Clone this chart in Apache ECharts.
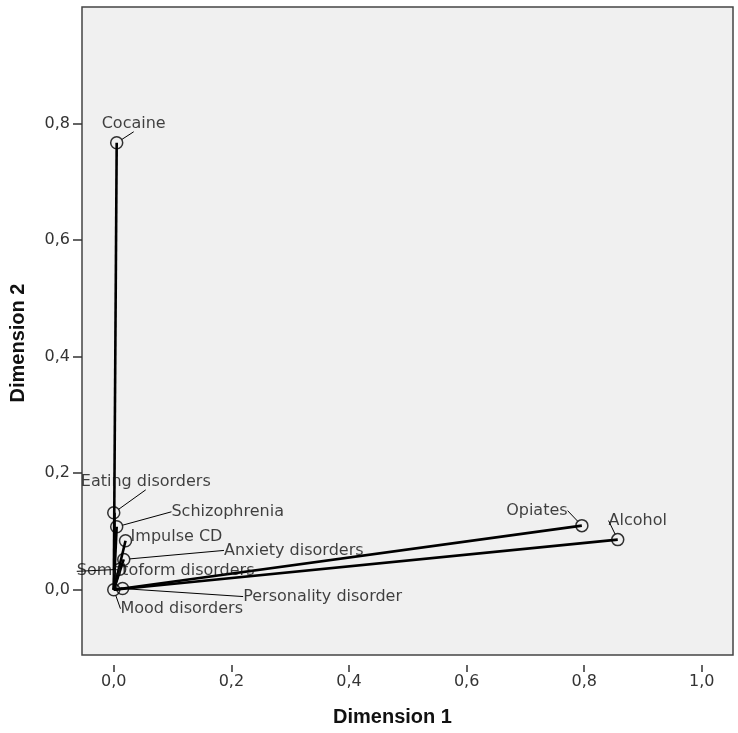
<!DOCTYPE html>
<html>
<head>
<meta charset="utf-8">
<script src="https://cdn.jsdelivr.net/npm/echarts@6/dist/echarts.min.js"></script>
<style>
  html, body { margin: 0; padding: 0; background: #fff; }
  #chart { width: 738px; height: 733px; }
</style>
</head>
<body>
<div id="chart"></div>
<script>
// 数据
const disorders = ['Cocaine', 'Eating disorders', 'Schizophrenia', 'Impulse CD', 'Anxiety disorders',
  'Somatoform disorders', 'Mood disorders', 'Personality disorder', 'Opiates', 'Alcohol'];
const dim1 = [0.005, 0.0, 0.005, 0.02, 0.017, 0.01, 0.0, 0.015, 0.796, 0.857];
const dim2 = [0.767, 0.132, 0.108, 0.084, 0.052, 0.035, 0.0, 0.002, 0.110, 0.086];
const tickValues = [0, 0.2, 0.4, 0.6, 0.8, 1.0];
const yTickValues = [0, 0.2, 0.4, 0.6, 0.8];

// 标签偏移 (像素)
const labelOffsets = [
  [17, -19], [32, -31], [111, -15], [51, -4], [170, -9],
  [46, 2], [68, 19], [200, 8], [-45, -15], [20, -19]
];

const fmt = (v) => v.toFixed(1).replace('.', ',');
const font = 'DejaVu Sans';

let chart = echarts.init(document.getElementById('chart'));

const points = disorders.map((name, i) => ({ name: name, value: [dim1[i], dim2[i]] }));
const vectors = disorders.map((name, i) => ({ coords: [[0, 0], [dim1[i], dim2[i]]] }));

chart.setOption({
  animation: false,
  grid: {
    left: 82, right: 5, top: 7, bottom: 78,
    show: true,
    backgroundColor: '#f0f0f0',
    borderColor: '#444',
    borderWidth: 1.5
  },
  xAxis: {
    type: 'value',
    min: -0.054, max: 1.053,
    offset: 10,
    name: 'Dimension 1',
    nameLocation: 'middle',
    nameGap: 42,
    nameTextStyle: { fontFamily: 'Liberation Sans', fontWeight: 'bold', fontSize: 20, color: '#111', padding: [0, 30, 0, 0] },
    axisLine: { show: false, onZero: false },
    splitLine: { show: false },
    axisTick: { show: true, length: 7, customValues: tickValues, lineStyle: { color: '#333', width: 1.5 } },
    axisLabel: { customValues: tickValues, formatter: fmt, margin: 9, fontFamily: font, fontSize: 16, color: '#333' }
  },
  yAxis: {
    type: 'value',
    min: -0.112, max: 1.0,
    name: 'Dimension 2',
    nameLocation: 'middle',
    nameGap: 54,
    nameTextStyle: { fontFamily: 'Liberation Sans', fontWeight: 'bold', fontSize: 20, color: '#111', padding: [0, 24, 0, 0] },
    axisLine: { show: false, onZero: false },
    splitLine: { show: false },
    axisTick: { show: true, length: 9, customValues: yTickValues, lineStyle: { color: '#333', width: 1.5 } },
    axisLabel: { customValues: yTickValues, formatter: fmt, margin: 12, fontFamily: font, fontSize: 16, color: '#333' }
  },
  series: [
    {
      type: 'lines',
      coordinateSystem: 'cartesian2d',
      z: 2,
      silent: true,
      lineStyle: { color: '#000', width: 2.6, opacity: 1, curveness: 0 },
      data: vectors
    },
    {
      type: 'scatter',
      z: 3,
      symbol: 'circle',
      symbolSize: 12,
      itemStyle: { color: 'rgba(0,0,0,0)', borderColor: '#000', borderWidth: 1.5 },
      label: {
        show: true,
        position: 'inside',
        formatter: '{b}',
        fontFamily: font,
        fontSize: 16,
        color: '#111'
      },
      labelLine: { show: true, lineStyle: { color: '#000', width: 1 } },
      labelLayout: (params) => ({
        dx: labelOffsets[params.dataIndex][0],
        dy: labelOffsets[params.dataIndex][1]
      }),
      data: points
    }
  ]
});
</script>
</body>
</html>
